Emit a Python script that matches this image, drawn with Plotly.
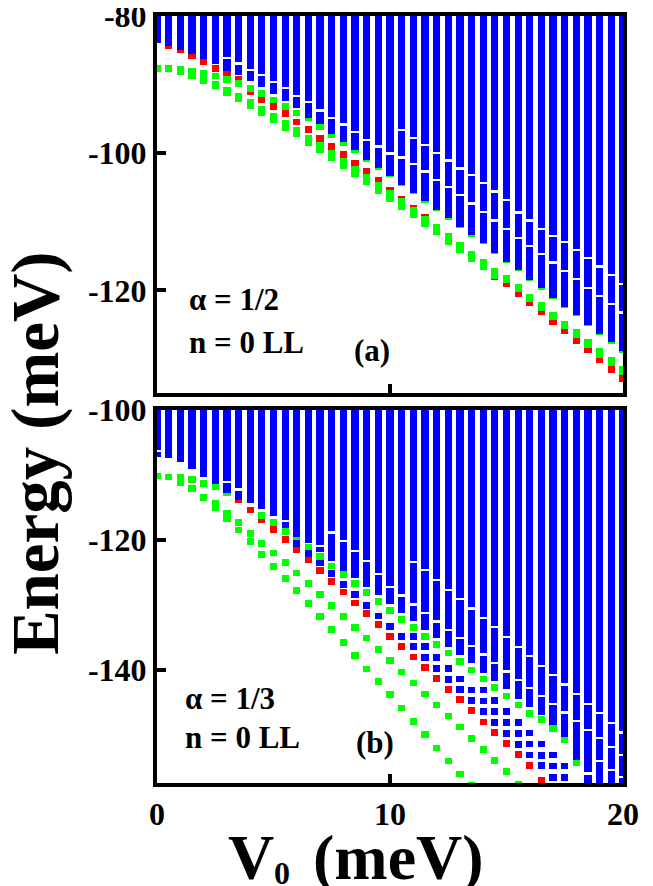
import plotly.graph_objects as go

# ---------------- data ----------------
V0 = [0, 0.5, 1, 1.5, 2, 2.5, 3, 3.5, 4, 4.5, 5, 5.5, 6, 6.5, 7, 7.5, 8, 8.5, 9, 9.5,
      10, 10.5, 11, 11.5, 12, 12.5, 13, 13.5, 14, 14.5, 15, 15.5, 16, 16.5, 17, 17.5,
      18, 18.5, 19, 19.5, 20]

# panel (a): alpha = 1/2
band_a = [-83.9, -84.4, -84.9, -85.5, -86.25, -87.0, -87.95, -88.65, -89.5, -90.4, -91.3,
          -92.4, -93.4, -94.8, -95.8, -97.15, -98.4, -99.6, -100.95, -102.2, -103.3,
          -104.6, -105.8, -107.0, -108.25, -109.5, -110.7, -112.0, -113.1, -114.5, -115.8,
          -117.0, -118.5, -119.7, -121.1, -122.4, -123.6, -125.0, -126.3, -127.6, -128.9]
green1_a = [-87.65, -87.7, -87.8, -88.05, -88.4, -88.75, -89.2, -89.85, -90.6, -91.35, -92.25,
            -93.15, -94.15, -94.8, -96.15, -97.3, -98.4, -99.45, -100.75, -102.0, -103.0,
            -104.3, -105.5, -106.7, -107.95, -109.2, -110.4, -111.7, -112.8, -114.2, -115.5,
            -116.7, -118.2, -119.4, -120.8, -122.1, -123.3, -124.7, -126.0, -127.3, -128.6]
red_a = [None, -84.25, -84.95, -85.75, -86.7, -87.65, -88.3, -89.3, -91.0, -92.2, -93.15,
         -94.25, -95.45, -96.6, -97.85, -99.05, -100.25, -101.45, -102.7, -104.0, -105.4,
         -106.75, -108.0, -109.3, -110.8, -112.6, -114.0, -115.3, -116.6, -118.0, -119.05,
         -120.4, -121.8, -123.1, -124.55, -125.85, -127.3, -128.7, -130.15, -131.5, -132.9]
green2_a = [-87.65, -87.7, -88.15, -88.7, -89.1, -90.0, -90.85, -91.7, -92.6, -93.55, -94.6,
            -95.7, -96.7, -97.8, -98.9, -100.1, -101.2, -102.3, -103.5, -104.7, -105.8,
            -107.1, -108.3, -109.7, -110.8, -112.15, -113.4, -114.7, -116.0, -117.3, -118.3,
            -119.6, -121.0, -122.25, -123.6, -124.95, -126.2, -127.55, -128.9, -130.2, -131.5]
green3_a = [-87.65, -87.7, -88.15, -88.7, -89.35, -90.2, -91.1, -92.1, -93.0, -94.05, -95.1,
            -96.2, -97.2, -98.4, -99.5, -100.7, -101.8, -103.0, -104.2, -105.4, -106.6,
            -107.8, -109.0, -110.3, -111.5, -112.85, -114.1, -115.3, -116.6, -117.9, -118.5,
            -119.8, -121.2, -122.45, -123.8, -125.15, -126.4, -127.85, -129.3, -130.6, -131.9]
gapL_a = [None, None, None, None, None, None, -86.1, -86.9, -87.8, -88.6, -89.6,
          -90.5, -91.6, -92.5, -93.75, -94.8, -95.8, -96.9, -98.0, -99.0, -100.0,
          -100.6, -101.5, -102.65, -103.9, -104.85, -106.05, -107.3, -108.5, -109.8, -111.0,
          -112.3, -113.5, -114.7, -115.9, -117.1, -118.3, -119.6, -120.8, -122.0, -123.2]
gapU_a = [None, None, None, None, None, None, None, None, None, None, None,
          None, None, None, None, None, None, None, None, None, None,
          -96.6, -97.7, -98.8, -99.9, -101.05, -102.2, -103.2, -104.35, -105.55, -106.8,
          -108.6, -109.8, -111.0, -112.0, -112.9, -114.1, -115.3, -116.5, -117.7, -119.0]

# panel (b): alpha = 1/3
band_b = [-107.2, -107.4, -107.95, -109.1, -110.25, -111.4, -112.7, -113.8, -114.3, -115.3, -116.3,
          -118.2, -119.5, -120.5, -121.8, -123.3, -124.7, -125.9, -127.3, -128.5, -129.9,
          -131.2, -132.5, -133.8, -135.1, -136.4, -137.7, -139.0, -140.4, -141.7, -143.0,
          -144.4, -145.7, -147.0, -148.4, -150.3, -153.8, -160.0, -160.0, -160.0, -160.0]
greenB_b = [-110.15, -110.3, -110.4, -110.7, -111.3, -111.75, -112.7, None, None, -116.2, -117.3,
            -118.7, -119.9, -121.15, -122.55, -124.0, -125.3, -126.65, -128.1, -129.5, -130.9,
            -132.2, -133.5, -134.8, -136.1, -137.4, -138.7, -140.0, -141.4, -142.7, -144.0,
            -145.4, -146.7, -147.6, -149.0, -150.8, -154.3, None, None, None, None]
red_b = [None, None, None, None, None, None, None, -113.85, -115.4, -116.9, -118.4,
         -119.95, -121.5, -123.1, -124.75, -126.35, -128.0, -129.7, -131.35, -133.0, -134.8,
         -136.4, -138.0, -139.6, -141.3, -143.0, -144.6, -146.3, -148.0, -149.6, -151.3,
         -153.0, -154.7, -157.0, None, None, None, None, None, None, None]
blue1_b = [None, None, None, None, None, None, None, None, None, None, None,
           None, -120.6, -122.05, -123.55, -125.2, -126.8, -128.45, -130.1, -131.7, -133.3,
           -134.8, -136.45, -138.05, -139.75, -141.45, -143.05, -144.75, -146.45, -148.05, -149.75,
           -151.45, -153.1, -154.75, -156.6, None, None, None, None, None, None]
blue2_b = [None, None, None, None, None, None, None, None, None, None, None,
           None, None, None, None, None, None, None, None, None, None,
           None, -134.8, -136.4, -138.1, -139.8, -141.4, -143.1, -144.8, -146.4, -148.1,
           -149.8, -151.4, -153.2, -154.8, -156.6, None, None, None, None, None]
blue3_b = [None, None, None, None, None, None, None, None, None, None, None,
           None, None, None, None, None, None, None, None, None, None,
           None, None, None, None, None, None, None, -143.1, -144.7, -146.4,
           -148.1, -149.7, -151.4, -153.1, -154.8, None, None, None, None, None]
green2_b = [-110.15, -110.3, -111.2, -112.1, -113.45, -114.35, -115.9, -117.3, -118.95, -120.5, -122.0,
            -123.5, -125.1, -126.7, -128.4, -130.1, -131.75, -133.5, -135.1, -136.85, -138.6,
            -140.3, -142.0, -143.7, -145.4, -147.1, -148.8, -150.5, -152.2, -153.9, -155.6,
            -157.6, None, None, None, None, None, None, None, None, None]
green3_b = [-110.15, -110.3, -111.2, -112.1, -113.45, -115.0, -116.7, -118.45, -120.25, -122.2, -124.1,
            -125.95, -127.8, -129.8, -131.75, -133.75, -135.75, -137.8, -139.85, -141.8, -143.8,
            -145.85, -147.9, -149.95, -152.0, -154.0, -156.0, -157.8, None, None, None,
            None, None, None, None, None, None, None, None, None, None]
gap1_b = [-106.3, None, None, None, None, None, -111.1, -112.2, None, None, None,
          -117.1, None, None, -120.9, -118.8, -120.1, -121.6, -123.2, -125.2, -127.2,
          -128.5, -129.9, -131.2, -132.5, -133.8, -135.0, -136.3, -137.6, -138.9, -140.2,
          -141.5, -142.8, -144.0, -145.2, -146.5, -147.8, -149.2, -150.5, -151.8, -153.0]
gap2_b = [None, None, None, None, None, None, None, None, None, None, None,
          None, None, None, None, None, None, None, None, None, None,
          None, -123.3, -124.6, -126.1, -127.6, -129.0, -130.5, -132.0, -133.4, -134.9,
          -136.4, -137.8, -139.3, -140.8, -142.2, -143.7, -145.2, -146.6, -148.1, -149.6]
gap3_b = [None] * 37 + [-155.9, -154.0, -155.3, -156.4]

Y_TICKS_A = [-80, -100, -120]
Y_TICKS_B = [-100, -120, -140]
X_TICKS = [0, 10, 20]

# ---------------- styling ----------------
BLUE, RED, GREEN = "#0000FF", "#FF0000", "#00FF00"
W = 0.31          # column width (meV)
SQ_A, SQ_B = 1.0, 1.04   # square height in each panel (meV)
GH = 0.26         # white gap line height
FONT = "Liberation Serif"

fig = go.Figure()


def squares(vals, h, color, xa, ya, w=W):
    base = [None if v is None else v - h / 2 for v in vals]
    hh = [None if v is None else h for v in vals]
    fig.add_trace(go.Bar(x=V0, y=hh, base=base, width=w, marker_color=color,
                         marker_line_width=0, xaxis=xa, yaxis=ya, showlegend=False,
                         hoverinfo="skip"))


def band(bottoms, top, xa, ya):
    fig.add_trace(go.Bar(x=V0, y=[top - b for b in bottoms], base=bottoms, width=W,
                         marker_color=BLUE, marker_line_width=0, xaxis=xa, yaxis=ya,
                         showlegend=False, hoverinfo="skip"))


# panel (a)
squares(red_a, SQ_A, RED, "x", "y")
squares(green1_a, SQ_A, GREEN, "x", "y")
squares(green2_a, SQ_A, GREEN, "x", "y")
squares(green3_a, SQ_A, GREEN, "x", "y")
band(band_a, -79.0, "x", "y")
squares(gapL_a, GH, "white", "x", "y", w=W + 0.02)
squares(gapU_a, GH, "white", "x", "y", w=W + 0.02)

# panel (b)
squares(red_b, SQ_B, RED, "x2", "y2")
squares(greenB_b, SQ_B, GREEN, "x2", "y2")
squares(green2_b, SQ_B, GREEN, "x2", "y2")
squares(green3_b, SQ_B, GREEN, "x2", "y2")
band(band_b, -99.0, "x2", "y2")
squares(blue1_b, SQ_B, BLUE, "x2", "y2")
squares(blue2_b, SQ_B, BLUE, "x2", "y2")
squares(blue3_b, SQ_B, BLUE, "x2", "y2")
squares(gap1_b, GH, "white", "x2", "y2", w=W + 0.02)
squares(gap2_b, GH, "white", "x2", "y2", w=W + 0.02)
squares(gap3_b, GH, "white", "x2", "y2", w=W + 0.02)

axis_common = dict(showline=True, mirror=True, linecolor="black", linewidth=4,
                   ticks="inside", ticklen=9, tickwidth=4, tickcolor="black",
                   showgrid=False, zeroline=False, automargin=False,
                   ticklabeloverflow="allow",
                   tickfont=dict(family=FONT, size=32, color="black", weight="bold"))

# page body has an 8px margin, so the figure is sized/placed to compensate
fig.update_layout(
    width=645, height=878,
    margin=dict(l=149, r=30, t=8, b=103, autoexpand=False),
    paper_bgcolor="white", plot_bgcolor="white",
    barmode="overlay", bargap=0,
    xaxis=dict(domain=[0, 1], anchor="y", range=[0, 20], tickvals=X_TICKS,
               showticklabels=False, **axis_common),
    yaxis=dict(domain=[0.5091, 1], anchor="x", range=[-134.9, -80], tickvals=Y_TICKS_A,
               ticktext=["-%d" % abs(v) for v in Y_TICKS_A], **axis_common),
    xaxis2=dict(domain=[0, 1], anchor="y2", range=[0, 20], tickvals=X_TICKS,
                ticktext=[str(v) for v in X_TICKS], **axis_common),
    yaxis2=dict(domain=[0, 0.4863], anchor="x2", range=[-157.4, -100], tickvals=Y_TICKS_B,
                ticktext=["-%d" % abs(v) for v in Y_TICKS_B], **axis_common),
)

ann_font = dict(family=FONT, size=31, color="black", weight="bold")
anns = [
    dict(text="α = 1/2", x=0.0644, y=0.631, xanchor="left", yanchor="middle"),
    dict(text="n = 0 LL", x=0.0644, y=0.5737, xanchor="left", yanchor="middle"),
    dict(text="(a)", x=0.4614, y=0.5645, xanchor="center", yanchor="middle"),
    dict(text="α = 1/3", x=0.0558, y=0.1108, xanchor="left", yanchor="middle"),
    dict(text="n = 0 LL", x=0.0558, y=0.0587, xanchor="left", yanchor="middle"),
    dict(text="(b)", x=0.4678, y=0.0522, xanchor="center", yanchor="middle"),
]
for a in anns:
    fig.add_annotation(xref="paper", yref="paper", showarrow=False, font=ann_font, **a)

# y-axis title
fig.add_annotation(xref="paper", yref="paper", x=-0.262, y=0.430, text="Energy (meV)",
                   textangle=-90, showarrow=False, xanchor="center", yanchor="middle",
                   font=dict(family=FONT, size=67, color="black", weight="bold"))
# x-axis title: V, subscript 0, (meV)
title_font = dict(family=FONT, size=64, color="black", weight="bold")
fig.add_annotation(xref="paper", yref="paper", x=0.148, y=-0.0482, text="V",
                   showarrow=False, xanchor="left", yanchor="top", font=title_font)
fig.add_annotation(xref="paper", yref="paper", x=0.2468, y=-0.0919, text="0",
                   showarrow=False, xanchor="left", yanchor="top",
                   font=dict(family=FONT, size=32, color="black", weight="bold"))
fig.add_annotation(xref="paper", yref="paper", x=0.3305, y=-0.0482, text="(meV)",
                   showarrow=False, xanchor="left", yanchor="top", font=title_font)

fig.write_html("out.html")
